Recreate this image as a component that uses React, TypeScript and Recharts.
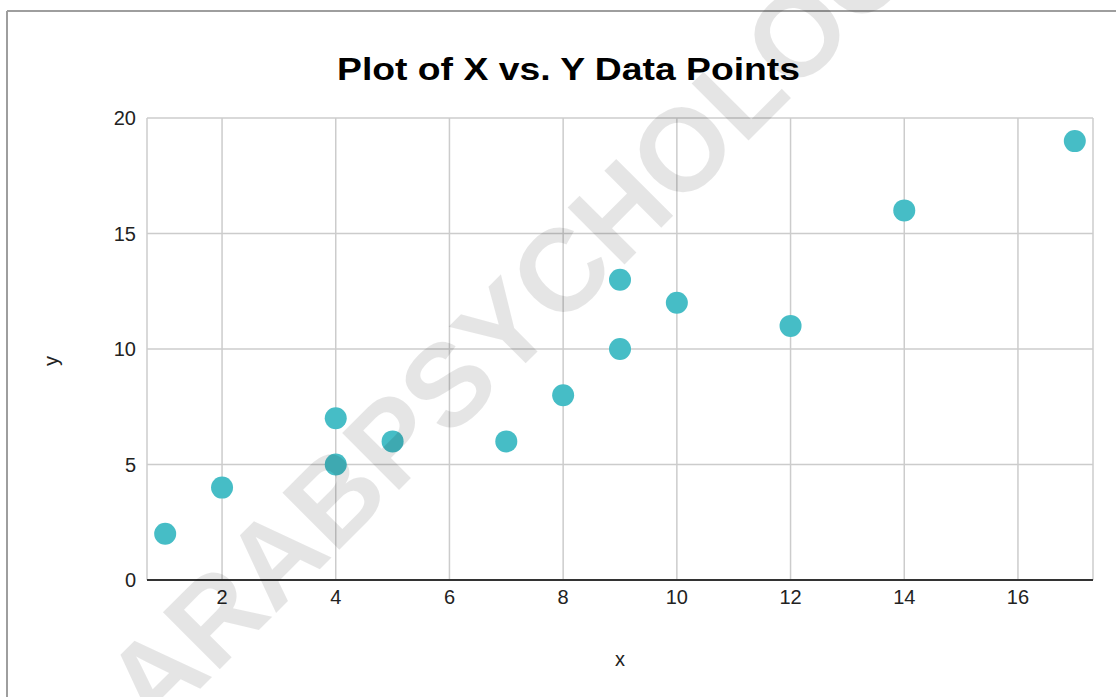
import React from 'react';
import { ScatterChart, Scatter, XAxis, YAxis, CartesianGrid } from 'recharts';

const xValues = [1, 2, 4, 4, 5, 7, 8, 9, 9, 10, 12, 14, 17];
const yValues = [2, 4, 7, 5, 6, 6, 8, 13, 10, 12, 11, 16, 19];
const xTicks = [2, 4, 6, 8, 10, 12, 14, 16];
const yTicks = [0, 5, 10, 15, 20];
const title = 'Plot of X vs. Y Data Points';
const watermark = 'ARABPSYCHOLOGY';

const data = xValues.map((x, i) => ({ x, y: yValues[i] }));

const FONT = 'Arial, "Liberation Sans", sans-serif';

const Dot = (props: any) => {
  const { cx, cy } = props;
  return <circle cx={cx} cy={cy} r={11} fill="#46bdc6" />;
};

export default function App() {
  return (
    <div style={{ position: 'absolute', left: 0, top: 0, width: 1116, height: 697, background: '#fff', overflow: 'hidden' }}>
      <ScatterChart width={1116} height={697} margin={{ top: 118, right: 23, bottom: 87, left: 87 }}>
        <CartesianGrid stroke="#cccccc" strokeWidth={1.5} />
        <XAxis
          type="number"
          dataKey="x"
          domain={[0.68, 17.32]}
          ticks={xTicks}
          allowDataOverflow
          tickLine={false}
          axisLine={{ stroke: '#333333', strokeWidth: 2 }}
          tickMargin={4}
          tick={{ fill: '#222222', fontSize: 20, fontFamily: FONT }}
        />
        <YAxis
          type="number"
          dataKey="y"
          domain={[0, 20]}
          ticks={yTicks}
          tickLine={false}
          axisLine={false}
          tickMargin={5}
          tick={{ fill: '#222222', fontSize: 20, fontFamily: FONT }}
        />
        <Scatter data={data} isAnimationActive={false} shape={Dot} />
      </ScatterChart>
      <svg width={1116} height={697} style={{ position: 'absolute', left: 0, top: 0, pointerEvents: 'none' }}>
        <line x1={7} y1={11} x2={1116} y2={11} stroke="#9e9e9e" strokeWidth={2} />
        <line x1={7} y1={11} x2={7} y2={697} stroke="#9e9e9e" strokeWidth={2} />
        <text
          x={337}
          y={80}
          textLength={463}
          lengthAdjust="spacingAndGlyphs"
          fontFamily={FONT}
          fontWeight="bold"
          fontSize={31}
          fill="#000"
        >
          {title}
        </text>
        <text x={620} y={666} textAnchor="middle" fontFamily={FONT} fontSize={20} fill="#222">x</text>
        <text x={0} y={0} transform="translate(58,361) rotate(-90)" textAnchor="middle" fontFamily={FONT} fontSize={20} fill="#222">y</text>
        <text
          x={566}
          y={323}
          transform="rotate(-45, 566, 323)"
          textAnchor="middle"
          fontFamily={FONT}
          fontWeight="bold"
          fontSize={117}
          fill="#000"
          fillOpacity={0.1}
        >
          {watermark}
        </text>
      </svg>
    </div>
  );
}
